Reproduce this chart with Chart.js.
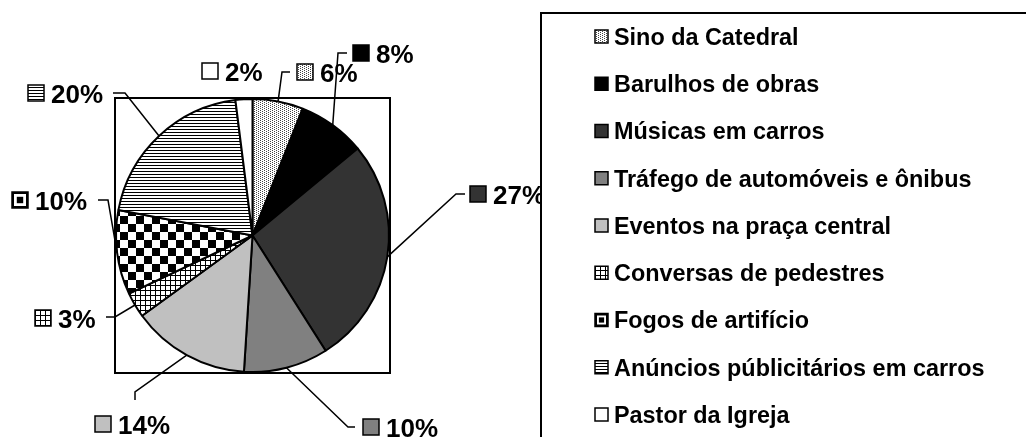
<!DOCTYPE html>
<html>
<head>
<meta charset="utf-8">
<script src="https://cdn.jsdelivr.net/npm/chart.js@4.4.1/dist/chart.umd.min.js"></script>
<style>
  html, body { margin: 0; padding: 0; background: #fff; }
  canvas { display: block; }
</style>
</head>
<body>
<canvas id="noiseChart" width="1026" height="437"></canvas>
<script>
// data
const categories = [
    "Sino da Catedral",
    "Barulhos de obras",
    "Músicas em carros",
    "Tráfego de automóveis e ônibus",
    "Eventos na praça central",
    "Conversas de pedestres",
    "Fogos de artifício",
    "Anúncios públicitários em carros",
    "Pastor da Igreja"
];
const percentages = [6, 8, 27, 10, 14, 3, 10, 20, 2];
const sliceFills = ["dots", "#000000", "#333333", "#808080", "#c0c0c0", "grid", "checker", "stripes", "#ffffff"];

// label layout, relative to pie centre: marker position, leader elbow, leader tail (null = no leader)
const labelSpots = [
    { at: [44.5, -163.5], elbow: [29.5, -163.5], tail: [37.5, -163.5] },
    { at: [100.5, -182.5], elbow: [85.5, -182.5], tail: [94.5, -182.5] },
    { at: [217.5, -41.5], elbow: [203.5, -41.5], tail: [212.5, -41.5] },
    { at: [110.5, 191.5], elbow: [95.5, 191.5], tail: [102.5, 191.5] },
    { at: [-157.5, 188.5], elbow: [-117.5, 156.5], tail: [-117.5, 164.5] },
    { at: [-217.5, 82.5], elbow: [-137.5, 81.5], tail: [-146.5, 81.5] },
    { at: [-240.5, -35.5], elbow: [-144.5, -35.5], tail: [-154.5, -35.5] },
    { at: [-224.5, -142.5], elbow: [-127.5, -142.5], tail: [-139.5, -142.5] },
    { at: [-50.5, -164.5], elbow: null, tail: null }
];

const FONT = '"Liberation Sans", Arial, sans-serif';

function makePattern(kind) {
    const c = document.createElement("canvas");
    if (kind === "dots") { c.width = 4; c.height = 2; }
    if (kind === "grid") { c.width = 5; c.height = 5; }
    if (kind === "checker") { c.width = 16; c.height = 16; }
    if (kind === "stripes") { c.width = 3; c.height = 3; }
    const g = c.getContext("2d");
    g.fillStyle = "#ffffff";
    g.fillRect(0, 0, c.width, c.height);
    g.fillStyle = "#000000";
    if (kind === "dots") {
        g.fillStyle = "#444444";
        g.fillRect(0, 0, 1, 1);
        g.fillRect(2, 1, 1, 1);
    } else if (kind === "grid") {
        g.fillRect(0, 0, 5, 1);
        g.fillRect(0, 0, 1, 5);
    } else if (kind === "checker") {
        g.fillRect(0, 0, 8, 8);
        g.fillRect(8, 8, 8, 8);
    } else if (kind === "stripes") {
        g.fillRect(0, 0, 3, 1);
    }
    return g.createPattern(c, "repeat");
}

const ctx = document.getElementById("noiseChart").getContext("2d");
const fills = sliceFills.map(f => f.startsWith("#") ? f : makePattern(f));

// small swatch: the checker reads as a framed black dot at this size
function swatch(ctx, i, x, y, size) {
    if (sliceFills[i] === "checker") {
        ctx.fillStyle = "#000";
        ctx.fillRect(x - 0.75, y - 0.75, size + 1.5, size + 1.5);
        ctx.fillStyle = "#fff";
        ctx.fillRect(x + 2, y + 2, size - 4, size - 4);
        ctx.fillStyle = "#000";
        const c = size * 0.3;
        ctx.fillRect(x + c, y + c, size - 2 * c, size - 2 * c);
        return;
    }
    ctx.fillStyle = fills[i];
    ctx.fillRect(x, y, size, size);
    ctx.strokeStyle = "#000";
    ctx.lineWidth = 1.5;
    ctx.strokeRect(x, y, size, size);
}

const pieDecorations = {
    id: "pieDecorations",
    beforeDatasetsDraw(chart) {
        const { ctx, chartArea: a } = chart;
        ctx.save();
        ctx.strokeStyle = "#000";
        ctx.lineWidth = 2;
        ctx.strokeRect(a.left, a.top, a.right - a.left, a.bottom - a.top);
        ctx.restore();
    },
    afterDatasetsDraw(chart) {
        const { ctx } = chart;
        const meta = chart.getDatasetMeta(0);
        const values = chart.data.datasets[0].data;
        ctx.save();
        meta.data.forEach((arc, i) => {
            const p = arc.getProps(["x", "y", "startAngle", "endAngle", "outerRadius"], true);
            const spot = labelSpots[i];
            const mid = (p.startAngle + p.endAngle) / 2;
            if (spot.elbow) {
                ctx.beginPath();
                ctx.moveTo(p.x + Math.cos(mid) * p.outerRadius, p.y + Math.sin(mid) * p.outerRadius);
                ctx.lineTo(p.x + spot.elbow[0], p.y + spot.elbow[1]);
                ctx.lineTo(p.x + spot.tail[0], p.y + spot.tail[1]);
                ctx.strokeStyle = "#000";
                ctx.lineWidth = 1.5;
                ctx.stroke();
            }
            const mx = p.x + spot.at[0];
            const my = p.y + spot.at[1];
            swatch(ctx, i, mx, my - 8, 16);
            ctx.fillStyle = "#000";
            ctx.font = "bold 26px " + FONT;
            ctx.textBaseline = "alphabetic";
            ctx.fillText(values[i] + "%", mx + 23, my + 9.5);
        });
        ctx.restore();
    },
    afterDraw(chart) {
        // legend panel, runs off the right and bottom edges
        const { ctx } = chart;
        ctx.save();
        ctx.fillStyle = "#fff";
        ctx.fillRect(541, 13, 520, 460);
        ctx.strokeStyle = "#000";
        ctx.lineWidth = 2;
        ctx.strokeRect(541, 13, 520, 460);
        ctx.font = "bold 23.4px " + FONT;
        ctx.textBaseline = "alphabetic";
        chart.data.labels.forEach((name, i) => {
            const cy = 36.5 + i * 47.25;
            swatch(ctx, i, 595, cy - 6.5, 13);
            ctx.fillStyle = "#000";
            ctx.fillText(name, 614, cy + 8.4);
        });
        ctx.restore();
    }
};

new Chart(ctx, {
    type: "pie",
    data: {
        labels: categories,
        datasets: [{
            data: percentages,
            backgroundColor: fills,
            borderColor: "#000000",
            borderWidth: 2
        }]
    },
    options: {
        responsive: false,
        animation: false,
        layout: {
            padding: { left: 115, top: 98, right: 636, bottom: 64 }
        },
        plugins: {
            legend: { display: false },
            tooltip: { enabled: false }
        }
    },
    plugins: [pieDecorations]
});
</script>
</body>
</html>
